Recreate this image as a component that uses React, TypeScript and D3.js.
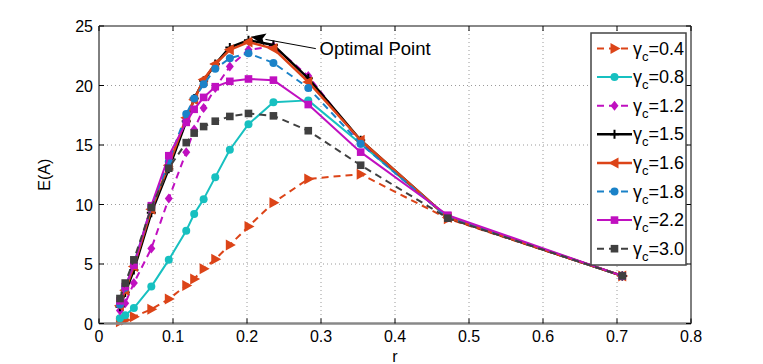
import React from "react";
import * as d3 from "d3";

const rValues = [0.0283, 0.0354, 0.0471, 0.0707, 0.0943, 0.1179, 0.1286, 0.1414, 0.1571, 0.1768, 0.202, 0.2357, 0.2828, 0.3536, 0.4714, 0.7071];

const g04 = [0.15, 0.3, 0.57, 1.2, 2.05, 3.2, 3.75, 4.6, 5.4, 6.6, 8.15, 10.15, 12.15, 12.55, 8.8, 4.0];
const g08 = [0.45, 0.7, 1.3, 3.1, 5.35, 7.8, 9.2, 10.45, 12.3, 14.6, 16.75, 18.6, 18.75, 15.1, 8.9, 4.0];
const g12 = [1.1, 1.7, 3.4, 6.3, 10.5, 14.4, 16.3, 18.1, 19.8, 21.6, 23.0, 23.3, 20.8, 15.2, 8.9, 4.0];
const g15 = [1.4, 2.6, 4.5, 9.3, 13.0, 17.0, 18.9, 20.4, 21.8, 23.2, 23.8, 23.4, 20.6, 15.4, 8.9, 4.0];
const g16 = [1.5, 2.8, 4.8, 9.6, 13.3, 17.3, 18.8, 20.5, 21.8, 23.0, 23.65, 23.1, 20.3, 15.4, 8.9, 4.0];
const g18 = [1.6, 3.0, 5.0, 9.8, 13.6, 17.6, 18.9, 20.1, 21.4, 22.3, 22.7, 21.9, 19.8, 15.1, 8.9, 4.0];
const g22 = [1.9, 3.1, 4.9, 9.9, 14.1, 16.9, 18.0, 19.0, 19.9, 20.35, 20.55, 20.45, 18.4, 14.4, 9.1, 4.0];
const g30 = [2.1, 3.4, 5.35, 9.75, 13.05, 15.2, 16.0, 16.55, 17.0, 17.4, 17.65, 17.45, 16.2, 13.3, 8.85, 4.0];

const seriesLabels = ["0.4", "0.8", "1.2", "1.5", "1.6", "1.8", "2.2", "3.0"];
const seriesValues = [g04, g08, g12, g15, g16, g18, g22, g30];
const seriesColors = ["#dc4418", "#17c0c0", "#c010c0", "#000000", "#dc4418", "#1a82c8", "#c010c0", "#404040"];
const seriesMarkers = ["triR", "circle", "diamond", "plus", "triL", "circle", "square", "square"];
const seriesDashed = [true, false, true, false, false, true, false, true];
const seriesWidths = [2, 2, 2, 2.5, 2.5, 2, 2, 2];

const xTicks = [0, 0.1, 0.2, 0.3, 0.4, 0.5, 0.6, 0.7, 0.8];
const xTickLabels = ["0", "0.1", "0.2", "0.3", "0.4", "0.5", "0.6", "0.7", "0.8"];
const yTicks = [0, 5, 10, 15, 20, 25];
const yTickLabels = ["0", "5", "10", "15", "20", "25"];

const annotationText = "Optimal Point";
const annotationTip = [0.205, 24.1];
const annotationFrom = [0.293, 23.1];
const annotationTextPos = [0.298, 22.6];

const FONT = "'Liberation Sans', Arial, sans-serif";

function Marker({ type, x, y, color }: { type: string; x: number; y: number; color: string }) {
  switch (type) {
    case "triR":
      return <path d={`M${x + 6},${y} L${x - 4},${y - 5.5} L${x - 4},${y + 5.5} Z`} fill={color} />;
    case "triL":
      return <path d={`M${x - 6},${y} L${x + 4},${y - 5.5} L${x + 4},${y + 5.5} Z`} fill={color} />;
    case "circle":
      return <circle cx={x} cy={y} r={4} fill={color} />;
    case "diamond":
      return <path d={`M${x},${y - 5} L${x + 4},${y} L${x},${y + 5} L${x - 4},${y} Z`} fill={color} />;
    case "square":
      return <rect x={x - 3.8} y={y - 3.8} width={7.6} height={7.6} fill={color} />;
    case "plus":
      return (
        <path d={`M${x - 4.5},${y} L${x + 4.5},${y} M${x},${y - 4.5} L${x},${y + 4.5}`} stroke={color} strokeWidth={2} />
      );
    default:
      return null;
  }
}

export default function App() {
  const W = 763;
  const H = 364;
  const x = d3.scaleLinear().domain([0, 0.8]).range([99, 691]);
  const y = d3.scaleLinear().domain([0, 25]).range([323.5, 26]);
  const line = d3
    .line<[number, number]>()
    .x((d) => x(d[0]))
    .y((d) => y(d[1]));

  const left = x(0), right = x(0.8), top = y(25), bottom = y(0);

  const legX = 591, legY = 33, legW = 95, legH = 232, legStep = 28.6;

  const tip = [x(annotationTip[0]), y(annotationTip[1])];
  const from = [x(annotationFrom[0]), y(annotationFrom[1])];
  const ang = Math.atan2(tip[1] - from[1], tip[0] - from[0]);
  const hl = 15, hw = 6;
  const bx = tip[0] - hl * Math.cos(ang), by = tip[1] - hl * Math.sin(ang);
  const px = -Math.sin(ang), py = Math.cos(ang);

  return (
    <svg width={W} height={H} style={{ position: "absolute", left: 0, top: 0, background: "#fff" }} fontFamily={FONT}>
      <rect x={0} y={0} width={W} height={H} fill="#fff" />
      {/* grid */}
      {xTicks.slice(1, -1).map((t) => (
        <line key={"gx" + t} x1={x(t)} x2={x(t)} y1={top} y2={bottom} stroke="#9a9a9a" strokeWidth={1} strokeDasharray="1,3" />
      ))}
      {yTicks.slice(1, -1).map((t) => (
        <line key={"gy" + t} x1={left} x2={right} y1={y(t)} y2={y(t)} stroke="#9a9a9a" strokeWidth={1} strokeDasharray="1,3" />
      ))}
      {/* series */}
      {seriesValues.map((vals, i) => {
        const pts = vals.map((v, j) => [rValues[j], v] as [number, number]);
        return (
          <g key={"s" + i}>
            <path
              d={line(pts) || ""}
              fill="none"
              stroke={seriesColors[i]}
              strokeWidth={seriesWidths[i]}
              strokeDasharray={seriesDashed[i] ? "7,5" : undefined}
              strokeLinejoin="round"
            />
            {pts.map((p, j) => (
              <Marker key={j} type={seriesMarkers[i]} x={x(p[0])} y={y(p[1])} color={seriesColors[i]} />
            ))}
          </g>
        );
      })}
      {/* axes box */}
      <line x1={left} x2={left} y1={top} y2={bottom} stroke="#000" strokeWidth={1} />
      <line x1={right} x2={right} y1={top} y2={bottom} stroke="#000" strokeWidth={1} />
      <line x1={left} x2={right} y1={top} y2={top} stroke="#888" strokeWidth={2} />
      <line x1={left} x2={right} y1={bottom} y2={bottom} stroke="#888" strokeWidth={2.5} />
      {xTicks.map((t, i) => (
        <g key={"xt" + t}>
          <line x1={x(t)} x2={x(t)} y1={bottom} y2={bottom - 5} stroke="#000" />
          <line x1={x(t)} x2={x(t)} y1={top} y2={top + 5} stroke="#000" />
          <text x={x(t)} y={bottom + 18} textAnchor="middle" fontSize={16} fill="#000">
            {xTickLabels[i]}
          </text>
        </g>
      ))}
      {yTicks.map((t, i) => (
        <g key={"yt" + t}>
          <line x1={left} x2={left + 5} y1={y(t)} y2={y(t)} stroke="#000" />
          <line x1={right} x2={right - 5} y1={y(t)} y2={y(t)} stroke="#000" />
          <text x={left - 6} y={y(t) + 6} textAnchor="end" fontSize={16} fill="#000">
            {yTickLabels[i]}
          </text>
        </g>
      ))}
      <text x={(left + right) / 2} y={362} textAnchor="middle" fontSize={16}>
        r
      </text>
      <text transform={`translate(50,${(top + bottom) / 2}) rotate(-90)`} textAnchor="middle" fontSize={16}>
        E(A)
      </text>
      {/* annotation */}
      <line x1={from[0]} y1={from[1]} x2={bx} y2={by} stroke="#000" strokeWidth={1} />
      <path
        d={`M${tip[0]},${tip[1]} L${bx + px * hw},${by + py * hw} L${bx + 3 * Math.cos(ang)},${by + 3 * Math.sin(ang)} L${bx - px * hw},${by - py * hw} Z`}
        fill="#000"
      />
      <text x={x(annotationTextPos[0])} y={y(annotationTextPos[1])} fontSize={18.5} fill="#000">
        {annotationText}
      </text>
      {/* legend */}
      <rect x={legX} y={legY} width={legW} height={legH} fill="#fff" stroke="#444" strokeWidth={1.5} />
      {seriesLabels.map((lab, i) => {
        const ly = legY + 15.5 + i * legStep;
        return (
          <g key={"lg" + i}>
            <line
              x1={legX + 6}
              x2={legX + 41}
              y1={ly}
              y2={ly}
              stroke={seriesColors[i]}
              strokeWidth={seriesWidths[i]}
              strokeDasharray={seriesDashed[i] ? "7,5" : undefined}
            />
            <Marker type={seriesMarkers[i]} x={legX + 23.5} y={ly} color={seriesColors[i]} />
            <text x={legX + 42} y={ly + 6} fontSize={18} fill="#000">
              γ
              <tspan fontSize={13} dy={6}>c</tspan>
              <tspan dy={-6}>={lab}</tspan>
            </text>
          </g>
        );
      })}
    </svg>
  );
}
